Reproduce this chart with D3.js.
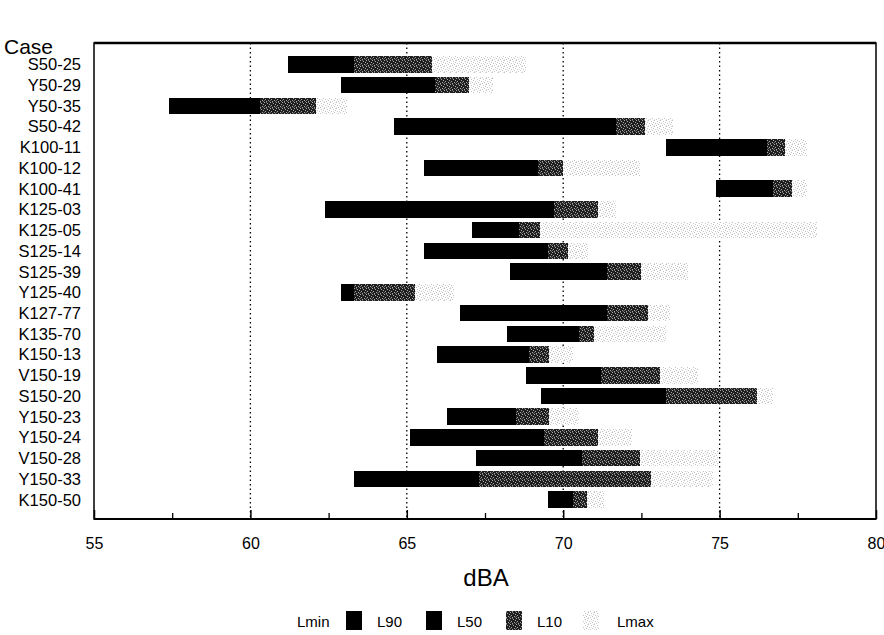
<!DOCTYPE html>
<meta charset="utf-8">
<style>
  body { margin: 0; background: #fff; }
  text { font-family: "Liberation Sans", Arial, sans-serif; fill: #000; }
  .grid { stroke: #000; stroke-width: 1.3; stroke-dasharray: 1.5,3; }
</style>
<script src="https://d3js.org/d3.v7.min.js"></script>
<body>
<script>

var cases = ["S50-25","Y50-29","Y50-35","S50-42","K100-11","K100-12","K100-41","K125-03","K125-05","S125-14",
  "S125-39","Y125-40","K127-77","K135-70","K150-13","V150-19","S150-20","Y150-23","Y150-24","V150-28","Y150-33","K150-50"];
var lmin = [61.2, 62.9, 57.4, 64.6, 73.3, 65.55, 74.9, 62.4, 67.1, 65.55, 68.3, 62.9, 66.7, 68.2, 65.95, 68.8, 69.3, 66.3, 65.1, 67.2, 63.3, 69.5];
var l90  = [62.0, 63.8, 58.5, 66.5, 74.2, 66.8, 75.5, 64.5, 67.6, 66.9, 69.2, 63.1, 68.0, 68.9, 66.9, 69.6, 70.6, 67.0, 66.6, 68.3, 65.0, 69.8];
var l50  = [63.3, 65.9, 60.3, 71.7, 76.5, 69.2, 76.7, 69.7, 68.6, 69.5, 71.4, 63.3, 71.4, 70.5, 68.9, 71.2, 73.3, 68.5, 69.4, 70.6, 67.3, 70.3];
var l10  = [65.8, 67.0, 62.1, 72.6, 77.1, 70.0, 77.3, 71.1, 69.25, 70.15, 72.5, 65.25, 72.7, 71.0, 69.55, 73.1, 76.2, 69.55, 71.1, 72.45, 72.8, 70.75];
var lmax = [68.8, 67.75, 63.1, 73.5, 77.8, 72.45, 77.8, 71.7, 78.1, 70.8, 74.0, 66.5, 73.4, 73.3, 70.3, 74.3, 76.7, 70.5, 72.2, 74.95, 74.8, 71.3];
var xTicks = [55, 60, 65, 70, 75, 80];
var minorTicks = [57.5, 62.5, 67.5, 72.5, 77.5];
var gridTicks = [60, 65, 70, 75];
var legendLabels = ["Lmin", "L90", "L50", "L10", "Lmax"];

var width = 884, height = 635;
var plotL = 94, plotR = 876, plotT = 43, plotB = 519;

var svg = d3.select("body").append("svg")
  .attr("width", width).attr("height", height);

// speckle textures for the L50-L10 and L10-Lmax pieces
var defs = svg.append("defs");
var dark = defs.append("pattern").attr("id", "darkTex")
  .attr("patternUnits", "userSpaceOnUse").attr("width", 6).attr("height", 6);
dark.append("rect").attr("width", 6).attr("height", 6).attr("fill", "#1e1e1e");
[[0,0],[3,1],[1,3],[4,4],[2,5],[5,2]].forEach(function(p) {
  dark.append("rect").attr("x", p[0]).attr("y", p[1]).attr("width", 1).attr("height", 1).attr("fill", "#a8a8a8");
});
[[2,0],[5,5],[0,4]].forEach(function(p) {
  dark.append("rect").attr("x", p[0]).attr("y", p[1]).attr("width", 1).attr("height", 1).attr("fill", "#6a6a6a");
});
var light = defs.append("pattern").attr("id", "lightTex")
  .attr("patternUnits", "userSpaceOnUse").attr("width", 6).attr("height", 6);
light.append("rect").attr("width", 6).attr("height", 6).attr("fill", "#fff");
[[0,0],[3,1],[1,3],[4,4],[2,5],[5,2]].forEach(function(p) {
  light.append("rect").attr("x", p[0]).attr("y", p[1]).attr("width", 1).attr("height", 1).attr("fill", "#c4c4c4");
});
[[5,0],[0,5],[3,3]].forEach(function(p) {
  light.append("rect").attr("x", p[0]).attr("y", p[1]).attr("width", 1).attr("height", 1).attr("fill", "#e2e2e2");
});

var fills = ["#000", "#000", "url(#darkTex)", "url(#lightTex)"];

var x = d3.scaleLinear().domain([55, 80]).range([plotL, plotR]);
var y = d3.scaleBand().domain(cases).range([54, 510]).paddingInner(0.2).paddingOuter(0.1);

// gridlines
svg.append("g").selectAll("line").data(gridTicks).enter().append("line")
  .attr("class", "grid")
  .attr("x1", d => x(d)).attr("x2", d => x(d))
  .attr("y1", plotT).attr("y2", plotB);

// bars
var rows = cases.map(function(c, i) {
  return { name: c, v: [lmin[i], l90[i], l50[i], l10[i], lmax[i]] };
});
var segs = [];
rows.forEach(function(r) {
  for (var k = 0; k < 4; k++) segs.push({ name: r.name, a: r.v[k], b: r.v[k + 1], k: k });
});
svg.append("g").selectAll("rect").data(segs).enter().append("rect")
  .attr("x", d => x(d.a))
  .attr("width", d => x(d.b) - x(d.a))
  .attr("y", d => y(d.name))
  .attr("height", y.bandwidth())
  .attr("fill", d => fills[d.k])
  .attr("shape-rendering", "crispEdges");

// frame
svg.append("rect")
  .attr("x", plotL).attr("y", plotT)
  .attr("width", plotR - plotL).attr("height", plotB - plotT)
  .attr("fill", "none").attr("stroke", "#000").attr("stroke-width", 1.5);
svg.append("line").attr("x1", plotL).attr("x2", plotR).attr("y1", plotT).attr("y2", plotT)
  .attr("stroke", "#000").attr("stroke-width", 2.5);
svg.append("line").attr("x1", plotL).attr("x2", plotR).attr("y1", plotB).attr("y2", plotB)
  .attr("stroke", "#000").attr("stroke-width", 2);

// x axis: ticks point inward
var xAxis = d3.axisBottom(x).tickValues(xTicks).tickSize(-9).tickPadding(19).tickSizeOuter(0);
var gx = svg.append("g").attr("transform", "translate(0," + plotB + ")").call(xAxis);
gx.select(".domain").remove();
gx.selectAll("line").attr("stroke-width", 1.5);
gx.selectAll("text").attr("font-size", 16).attr("font-family", "Liberation Sans, Arial, sans-serif");
var xMinor = d3.axisBottom(x).tickValues(minorTicks).tickSize(-6).tickFormat("");
var gm = svg.append("g").attr("transform", "translate(0," + plotB + ")").call(xMinor);
gm.select(".domain").remove();
gm.selectAll("line").attr("stroke-width", 1.3);

// y labels
svg.append("g").selectAll("text").data(cases).enter().append("text")
  .attr("x", 81).attr("y", d => y(d) + y.bandwidth() / 2)
  .attr("dy", "0.36em").attr("text-anchor", "end")
  .attr("font-size", 16.5)
  .text(d => d);

svg.append("text").attr("x", 4).attr("y", 54).attr("font-size", 21).text("Case");
svg.append("text").attr("x", 486).attr("y", 586)
  .attr("text-anchor", "middle").attr("font-size", 24).text("dBA");

// legend
var legX = [297, 377, 457, 537, 617];
var swX = [346, 426, 506, 583];
var lg = svg.append("g");
lg.selectAll("text").data(legendLabels).enter().append("text")
  .attr("x", (d, i) => legX[i]).attr("y", 627).attr("font-size", 15).text(d => d);
lg.selectAll("rect").data(fills).enter().append("rect")
  .attr("x", (d, i) => swX[i]).attr("y", 611)
  .attr("width", 16).attr("height", 19)
  .attr("fill", d => d);

</script>
</body>
